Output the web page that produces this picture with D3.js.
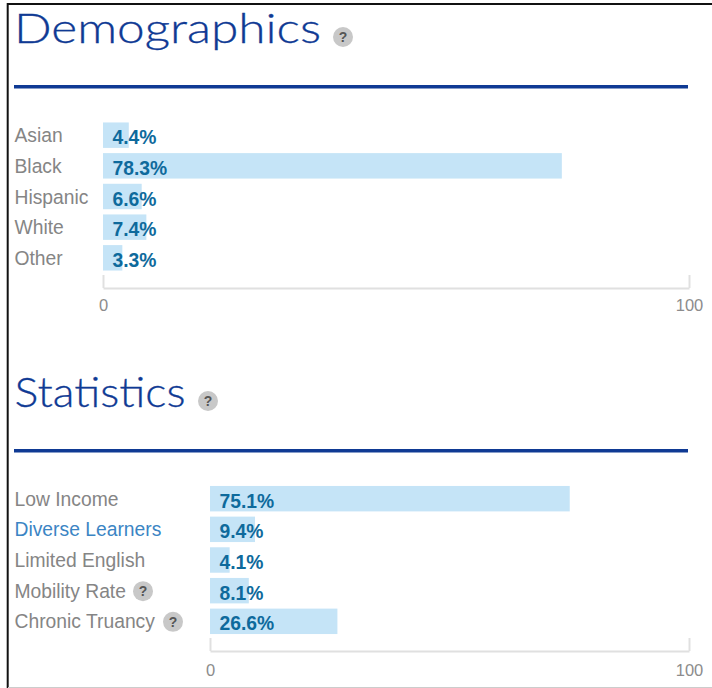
<!DOCTYPE html>
<html>
<head>
<meta charset="utf-8">
<script src="https://cdn.jsdelivr.net/npm/d3@7"></script>
<style>
html, body { margin: 0; padding: 0; background: #fff; }
svg { display: block; }
.font { font-family: "Liberation Sans", Arial, sans-serif; }
.title { font-family: Lato, sans-serif; font-weight: 300; font-size: 41px; fill: #0f3a94; stroke: #0f3a94; stroke-width: 0.3; }
.label { font-size: 19.3px; fill: #858585; }
.link { fill: #3b85c4; }
.value { font-size: 19.3px; font-weight: bold; fill: #0e6a9c; }
.tick { font-size: 16.5px; fill: #8c8c8c; }
</style>
</head>
<body>
<svg id="chart" width="712" height="688"></svg>
<script>
const demoCategories = ["Asian", "Black", "Hispanic", "White", "Other"];
const demoValues = [4.4, 78.3, 6.6, 7.4, 3.3];
const statCategories = ["Low Income", "Diverse Learners", "Limited English", "Mobility Rate", "Chronic Truancy"];
const statValues = [75.1, 9.4, 4.1, 8.1, 26.6];
const statHelp = [0, 0, 0, 1, 1];
const statLinks = [0, 1, 0, 0, 0];
const tickLabels = [0, 100];

const SVG_WIDTH = 712;
const SVG_HEIGHT = 688;
const BAR_COLOR = "#c5e4f7";
const RULE_COLOR = "#0f3a94";

var svg = d3.select("#chart");

// frame round the screenshot
svg.append("line").attr("x1", 7.7).attr("x2", 7.7).attr("y1", 3).attr("y2", SVG_HEIGHT)
    .attr("stroke", "#111").attr("stroke-width", 2);
svg.append("line").attr("x1", 7).attr("x2", SVG_WIDTH).attr("y1", 4).attr("y2", 4)
    .attr("stroke", "#111").attr("stroke-width", 2);
svg.append("line").attr("x1", 8).attr("x2", SVG_WIDTH).attr("y1", 687.5).attr("y2", 687.5)
    .attr("stroke", "#ccc").attr("stroke-width", 1);

function helpIcon(cx, cy) {
    var g = svg.append("g");
    g.append("circle").attr("cx", cx).attr("cy", cy).attr("r", 10).attr("fill", "#c8c8c8");
    g.append("text").attr("x", cx).attr("y", cy + 5).attr("text-anchor", "middle")
        .attr("class", "font").attr("font-size", 14).attr("font-weight", "bold")
        .attr("fill", "#555").text("?");
}

function drawSection(opt) {
    svg.append("text").attr("x", opt.titleX).attr("y", opt.titleY)
        .attr("textLength", opt.titleWidth).attr("lengthAdjust", "spacingAndGlyphs")
        .attr("class", "title").text(opt.title);
    helpIcon(opt.iconX, opt.iconY);
    svg.append("rect").attr("x", 14).attr("y", opt.ruleY).attr("width", 674).attr("height", 3.5)
        .attr("fill", RULE_COLOR);

    var x = d3.scaleLinear().domain([0, 100]).range([opt.left, 689]);
    var y = d3.scaleBand().domain(opt.categories)
        .range([opt.top, opt.top + 30.6 * opt.categories.length]).paddingInner(0.17).paddingOuter(0.08);

    svg.selectAll(null).data(opt.values).enter().append("rect")
        .attr("x", x(0))
        .attr("y", function(d, i) { return y(opt.categories[i]); })
        .attr("width", function(d) { return x(d) - x(0); })
        .attr("height", y.bandwidth())
        .attr("fill", BAR_COLOR);

    svg.selectAll(null).data(opt.categories).enter().append("text")
        .attr("x", 14.5)
        .attr("y", function(d) { return y(d) + y.bandwidth() / 2 + 7; })
        .attr("class", function(d, i) { return "font label" + (opt.links && opt.links[i] ? " link" : ""); })
        .text(function(d) { return d; });

    svg.selectAll(null).data(opt.values).enter().append("text")
        .attr("x", x(0) + 9.5)
        .attr("y", function(d, i) { return y(opt.categories[i]) + y.bandwidth() / 2 + 9; })
        .attr("class", "font value")
        .text(function(d) { return d.toFixed(1) + "%"; });

    if (opt.help) {
        opt.categories.forEach(function(d, i) {
            if (opt.help[i]) {
                helpIcon(opt.helpX[i], y(d) + y.bandwidth() / 2 + 0.5);
            }
        });
    }

    // axis bracket: ticks stand up from the baseline
    var axisG = svg.append("g").attr("transform", "translate(0," + opt.axisY + ")");
    var axis = d3.axisBottom(x).tickValues(tickLabels).tickSize(-13).tickPadding(opt.tickPad).tickSizeOuter(0);
    axisG.call(axis);
    axisG.select(".domain").attr("stroke", "#e0e0e0").attr("stroke-width", 2);
    axisG.selectAll(".tick line").attr("stroke", "#e0e0e0").attr("stroke-width", 2);
    axisG.selectAll(".tick text").attr("class", "font tick").attr("dy", "0.9em").style("font-family", "Liberation Sans");
}

drawSection({
    title: "Demographics", titleX: 14, titleY: 43, titleWidth: 307, iconX: 343, iconY: 37, ruleY: 85,
    categories: demoCategories, values: demoValues,
    left: 103, top: 120, axisY: 288, tickPad: 8
});

drawSection({
    title: "Statistics", titleX: 14.5, titleY: 407, titleWidth: 171, iconX: 208, iconY: 401, ruleY: 449,
    categories: statCategories, values: statValues, links: statLinks, help: statHelp,
    helpX: [0, 0, 0, 143, 173],
    left: 210, top: 483.5, axisY: 651, tickPad: 10
});
</script>
</body>
</html>
